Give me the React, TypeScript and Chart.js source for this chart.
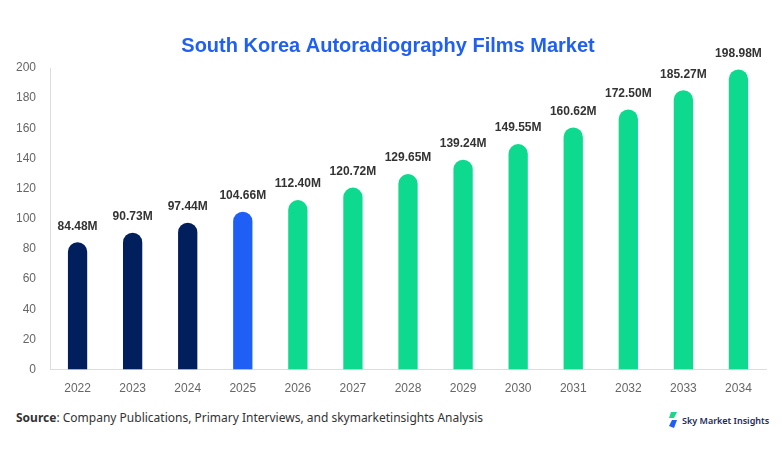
import React, { useEffect, useRef } from "react";
import { Chart, registerables } from "chart.js";

Chart.register(...registerables);

const years = ["2022", "2023", "2024", "2025", "2026", "2027", "2028", "2029", "2030", "2031", "2032", "2033", "2034"];
const values = [84.48, 90.73, 97.44, 104.66, 112.4, 120.72, 129.65, 139.24, 149.55, 160.62, 172.5, 185.27, 198.98];
const barColors = [
  "#001f5c", "#001f5c", "#001f5c", "#1f5ff5",
  "#0dd98f", "#0dd98f", "#0dd98f", "#0dd98f", "#0dd98f", "#0dd98f", "#0dd98f", "#0dd98f", "#0dd98f",
];
const yTicks = [0, 20, 40, 60, 80, 100, 120, 140, 160, 180, 200];
const titleText = "South Korea Autoradiography Films Market";

const valueLabels = {
  id: "valueLabels",
  afterDatasetsDraw(chart: any) {
    const { ctx } = chart;
    const meta = chart.getDatasetMeta(0);
    ctx.save();
    ctx.font = "bold 12px Arial, 'Liberation Sans', sans-serif";
    ctx.fillStyle = "#333333";
    ctx.textAlign = "center";
    ctx.textBaseline = "bottom";
    meta.data.forEach((bar: any, i: number) => {
      ctx.fillText(values[i].toFixed(2) + "M", bar.x, bar.y - 10);
    });
    ctx.restore();
  },
};

export default function App() {
  const ref = useRef<HTMLCanvasElement>(null);
  useEffect(() => {
    const chart = new Chart(ref.current as HTMLCanvasElement, {
      type: "bar",
      data: {
        labels: years,
        datasets: [
          {
            data: values,
            backgroundColor: barColors,
            borderRadius: { topLeft: 10, topRight: 10, bottomLeft: 0, bottomRight: 0 },
            borderSkipped: false,
            barPercentage: 0.35,
            categoryPercentage: 1,
          },
        ],
      },
      options: {
        animation: false,
        responsive: false,
        maintainAspectRatio: false,
        layout: { padding: { left: 10, right: 16, top: 0, bottom: 0 } },
        plugins: {
          legend: { display: false },
          tooltip: { enabled: false },
          title: {
            display: true,
            text: titleText,
            color: "#1f5ff5",
            font: { family: "Arial, 'Liberation Sans', sans-serif", size: 20, weight: "bold" },
            padding: { top: 34, bottom: 10 },
          },
        },
        scales: {
          x: {
            grid: { display: false },
            border: { display: true, color: "#dddddd" },
            ticks: { color: "#666666", font: { family: "Arial, 'Liberation Sans', sans-serif", size: 12 }, padding: 4 },
          },
          y: {
            min: 0,
            max: 200,
            afterBuildTicks: (scale: any) => {
              scale.ticks = yTicks.map((v) => ({ value: v }));
            },
            grid: { display: false },
            border: { display: true, color: "#dddddd" },
            ticks: { color: "#666666", font: { family: "Arial, 'Liberation Sans', sans-serif", size: 12 }, padding: 6 },
          },
        },
      },
      plugins: [valueLabels],
    });
    return () => chart.destroy();
  }, []);

  return (
    <div style={{ position: "fixed", left: 0, top: 0, width: 782, height: 454, background: "#fff", overflow: "hidden" }}>
      <canvas ref={ref} width={782} height={400} style={{ display: "block", width: 782, height: 400 }} />
      <div
        style={{
          position: "absolute",
          left: 16,
          top: 409,
          fontFamily: "'Noto Sans', 'Open Sans', sans-serif",
          fontSize: 12,
          color: "#333",
          whiteSpace: "nowrap",
        }}
      >
        <b>Source</b>: Company Publications, Primary Interviews, and skymarketinsights Analysis
      </div>
      <div
        style={{
          position: "absolute",
          left: 668,
          top: 412,
          display: "flex",
          alignItems: "center",
          fontFamily: "'Noto Sans', 'Open Sans', sans-serif",
          fontSize: 9,
          fontWeight: 600,
          color: "#1a2a5e",
          whiteSpace: "nowrap",
        }}
      >
        <svg width="10" height="16" viewBox="0 0 10 16" style={{ marginRight: 4 }}>
          <polygon points="3,0 9,0 6,6 1,6" fill="#1ed68a" />
          <polygon points="4,8 9,8 6,16 1,14" fill="#1f5ff5" />
        </svg>
        Sky Market Insights
      </div>
    </div>
  );
}
